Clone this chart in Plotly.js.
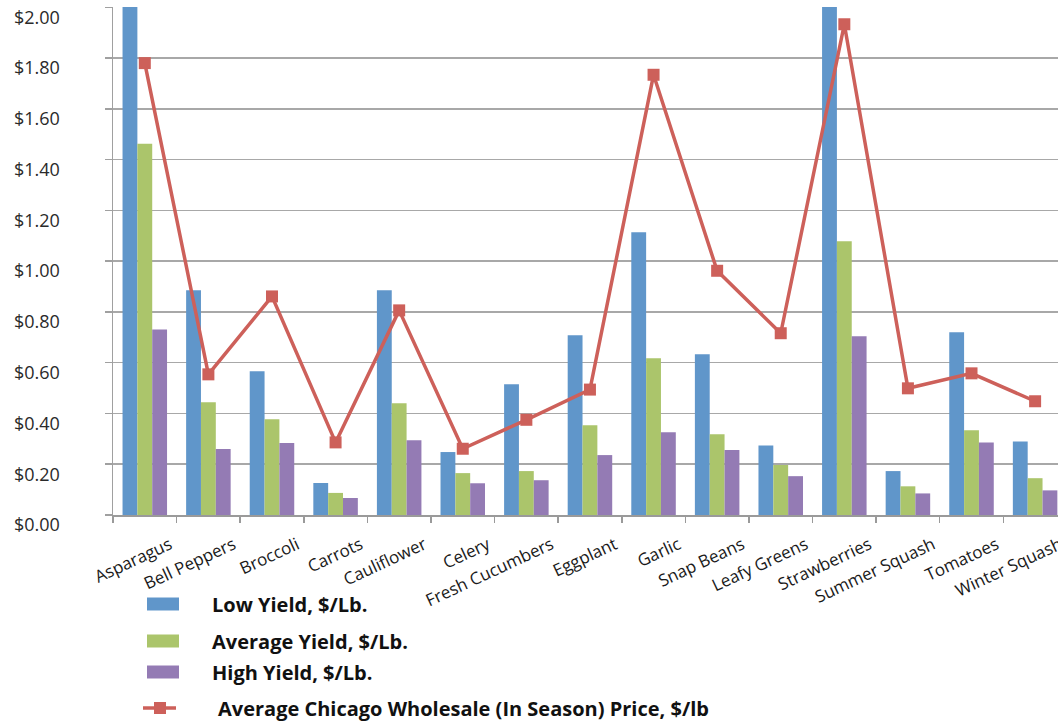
<!DOCTYPE html>
<html>
<head>
<meta charset="utf-8">
<script src="https://cdn.plot.ly/plotly-3.0.1.min.js"></script>
<style>html,body{margin:0;padding:0;background:#fff;}#chart{width:1058px;height:721px;}</style>
</head>
<body>
<div id="chart"></div>
<script>
const categories = ["Asparagus","Bell Peppers","Broccoli","Carrots","Cauliflower","Celery","Fresh Cucumbers","Eggplant","Garlic","Snap Beans","Leafy Greens","Strawberries","Summer Squash","Tomatoes","Winter Squash"];
const lowYield = [2.25, 0.885, 0.566, 0.126, 0.885, 0.248, 0.515, 0.708, 1.114, 0.633, 0.274, 2.20, 0.173, 0.720, 0.290];
const avgYield = [1.462, 0.444, 0.377, 0.087, 0.440, 0.165, 0.173, 0.354, 0.617, 0.318, 0.197, 1.078, 0.113, 0.334, 0.145];
const highYield = [0.731, 0.260, 0.284, 0.067, 0.294, 0.125, 0.137, 0.236, 0.326, 0.256, 0.153, 0.704, 0.085, 0.286, 0.097];
const wholesale = [1.78, 0.554, 0.861, 0.286, 0.806, 0.261, 0.375, 0.494, 1.734, 0.962, 0.716, 1.933, 0.499, 0.558, 0.448];
const seriesNames = ["Low Yield, $/Lb.", "Average Yield, $/Lb.", "High Yield, $/Lb.", " Average Chicago Wholesale (In Season) Price, $/lb"];
const yTicks = [0, 0.2, 0.4, 0.6, 0.8, 1.0, 1.2, 1.4, 1.6, 1.8, 2.0];

const colors = ["#6096CA", "#ABC56B", "#947BB4", "#CD605A"];

const W = 1058, H = 721;
const M = {l:113, r:0, t:7, b:206};
const PW = W - M.l - M.r, PH = H - M.t - M.b;
const px = v => (v - M.l) / PW;
const py = v => (H - M.b - v) / PH;

const traces = [
  {type:"bar", name:seriesNames[0], x:categories, y:lowYield, marker:{color:colors[0]}},
  {type:"bar", name:seriesNames[1], x:categories, y:avgYield, marker:{color:colors[1]}},
  {type:"bar", name:seriesNames[2], x:categories, y:highYield, marker:{color:colors[2]}},
  {type:"scatter", mode:"lines+markers", name:seriesNames[3], x:categories, y:wholesale,
   line:{color:colors[3], width:3.5}, marker:{symbol:"square", size:12, color:colors[3]}, cliponaxis:false}
];

// manual legend (swatches + labels)
const legendRows = [604, 641, 672, 708];
const shapes = [];
const annotations = [];
for (let i = 0; i < 3; i++) {
  shapes.push({type:"rect", xref:"paper", yref:"paper",
    x0:px(147), x1:px(179), y0:py(legendRows[i]-6.5), y1:py(legendRows[i]+6.5),
    fillcolor:colors[i], line:{width:0}});
}
shapes.push({type:"line", xref:"paper", yref:"paper",
  x0:px(143), x1:px(176), y0:py(legendRows[3]), y1:py(legendRows[3]),
  line:{color:colors[3], width:3.5}});
shapes.push({type:"rect", xref:"paper", yref:"paper",
  x0:px(154), x1:px(166), y0:py(legendRows[3]-6), y1:py(legendRows[3]+6),
  fillcolor:colors[3], line:{width:0}});
for (let i = 0; i < 4; i++) {
  annotations.push({xref:"paper", yref:"paper", x:px(i === 3 ? 216 : 210), y:py(legendRows[i]),
    xanchor:"left", yanchor:"middle", showarrow:false, text:"<b>" + seriesNames[i].trim() + "</b>",
    font:{size:20, color:"#111", family:"'Open Sans', sans-serif"}});
}

const layout = {
  width:W, height:H,
  margin:{l:M.l, r:M.r, t:M.t, b:M.b, autoexpand:false},
  paper_bgcolor:"#fff", plot_bgcolor:"#fff",
  barmode:"group", bargap:0.3, bargroupgap:0,
  showlegend:false,
  font:{family:"'Open Sans', sans-serif", color:"#1a1a1a"},
  xaxis:{
    type:"category",
    range:[-0.5, 14.36],
    tickangle:-25,
    tickson:"boundaries",
    ticks:"outside", ticklen:6, tickcolor:"#9a9a9a", tickwidth:1.5,
    showline:true, linecolor:"#9a9a9a", linewidth:1.5,
    showgrid:false,
    ticklabelshift:25,
    ticklabelstandoff:12,
    tickfont:{size:17, color:"#1a1a1a", family:"'Open Sans', sans-serif"},
    automargin:false, fixedrange:true
  },
  yaxis:{
    range:[0, 2.001],
    tickvals:yTicks,
    ticktext:yTicks.map(v => "$" + v.toFixed(2)),
    ticks:"outside", ticklen:7, tickcolor:"#a0a0a0", tickwidth:1.5,
    showline:true, linecolor:"#a0a0a0", linewidth:1.5,
    showgrid:true, gridcolor:"#a8a8a8", gridwidth:1.5,
    zeroline:false,
    ticklabelstandoff:41,
    ticklabelshift:10,
    tickfont:{size:18, color:"#2a2a2a", family:"'Open Sans', sans-serif"},
    automargin:false, fixedrange:true
  },
  shapes:shapes,
  annotations:annotations
};

Plotly.newPlot("chart", traces, layout, {displayModeBar:false, staticPlot:true});
</script>
</body>
</html>
